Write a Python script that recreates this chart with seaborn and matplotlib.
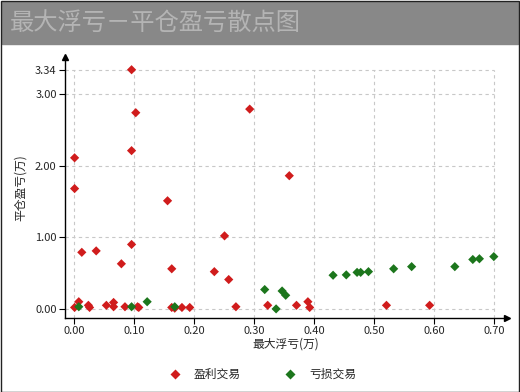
import pandas as pd
import seaborn as sns
import matplotlib.pyplot as plt
from matplotlib.patches import Rectangle

# data (units: 万)
profit_x = [0.096, 0.103, 0.001, 0.001, 0.096, 0.156, 0.293, 0.359, 0.251, 0.013,
            0.037, 0.096, 0.079, 0.163, 0.234, 0.258, 0.001, 0.008, 0.024, 0.026,
            0.054, 0.066, 0.066, 0.085, 0.108, 0.106, 0.163, 0.168, 0.180, 0.193,
            0.270, 0.323, 0.371, 0.390, 0.393, 0.521, 0.593]
profit_y = [3.34, 2.74, 2.11, 1.68, 2.21, 1.51, 2.79, 1.86, 1.02, 0.79,
            0.81, 0.90, 0.63, 0.56, 0.52, 0.41, 0.02, 0.10, 0.05, 0.02,
            0.05, 0.09, 0.03, 0.03, 0.02, 0.03, 0.02, 0.01, 0.02, 0.02,
            0.03, 0.05, 0.05, 0.10, 0.02, 0.05, 0.05]
loss_x = [0.008, 0.096, 0.122, 0.168, 0.318, 0.337, 0.347, 0.353, 0.432, 0.454,
          0.472, 0.478, 0.491, 0.533, 0.563, 0.635, 0.665, 0.676, 0.700]
loss_y = [0.03, 0.03, 0.10, 0.03, 0.27, 0.00, 0.25, 0.19, 0.47, 0.475,
          0.51, 0.51, 0.52, 0.56, 0.59, 0.59, 0.69, 0.70, 0.73]

groups = ['盈利交易', '亏损交易']
x_ticks = [0.0, 0.1, 0.2, 0.3, 0.4, 0.5, 0.6, 0.7]
y_ticks = [0.0, 1.0, 2.0, 3.0, 3.34]

df = pd.DataFrame({
    'x': profit_x + loss_x,
    'y': profit_y + loss_y,
    'type': [groups[0]] * len(profit_x) + [groups[1]] * len(loss_x),
})

sns.set_style('white')
plt.rcParams['font.family'] = ['Noto Sans CJK SC', 'DejaVu Sans']

fig = plt.figure(figsize=(5.2, 3.92), dpi=100)
ax = fig.add_axes([0.125, 0.189, 0.85, 0.666])

# title bar and frame
fig.patches.append(Rectangle((0.004, 1 - 44 / 392), 0.992, 42 / 392,
                             transform=fig.transFigure, color='#888888', zorder=0))
fig.patches.append(Rectangle((0.001, 0.001), 0.997, 0.997, transform=fig.transFigure,
                             fill=False, edgecolor='#222222', linewidth=1.0, zorder=0))
fig.text(0.018, 1 - 23 / 392, '最大浮亏－平仓盈亏散点图', fontsize=17.5, color='#b4b4b4',
         va='center', ha='left')

xmin, xmax = -0.015, 0.722
ymin, ymax = -0.126, 3.52

# bounded dashed grid
ax.hlines(y_ticks, xmin, 0.7, colors='#c8c8c8', linestyles=(0, (3, 3)), linewidth=0.8, zorder=1)
ax.vlines(x_ticks, ymin, 3.34, colors='#c8c8c8', linestyles=(0, (3, 3)), linewidth=0.8, zorder=1)

sns.scatterplot(data=df, x='x', y='y', hue='type', hue_order=groups,
                palette=['#d01c1c', '#1c761c'], marker='D', s=22,
                edgecolor='none', ax=ax, zorder=3)

ax.set_xlim(xmin, xmax)
ax.set_ylim(ymin, ymax)
ax.set_xticks(x_ticks)
ax.set_xticklabels([f'{v:.2f}' for v in x_ticks])
ax.set_yticks(y_ticks)
ax.set_yticklabels([f'{v:.2f}' for v in y_ticks])
ax.tick_params(axis='both', labelsize=8, length=4, width=0.8, color='black',
               direction='out', bottom=True, left=True, pad=2)

for side in ['top', 'right']:
    ax.spines[side].set_visible(False)
for side in ['left', 'bottom']:
    ax.spines[side].set_color('black')
    ax.spines[side].set_linewidth(1)

# arrows at axis ends
ax.plot(1, 0, '>', color='black', markersize=4, transform=ax.transAxes, clip_on=False)
ax.plot(0, 1, '^', color='black', markersize=4, transform=ax.transAxes, clip_on=False)

ax.set_xlabel('最大浮亏(万)', fontsize=8.5, labelpad=1)
ax.set_ylabel('平仓盈亏(万)', fontsize=8.5, labelpad=6)

sns.move_legend(ax, 'upper center', bbox_to_anchor=(0.44, -0.15), ncol=2,
                frameon=False, title=None, fontsize=8.5, handletextpad=0.6,
                columnspacing=3.2, markerscale=1.0)

fig.savefig('out.png', dpi=100)
